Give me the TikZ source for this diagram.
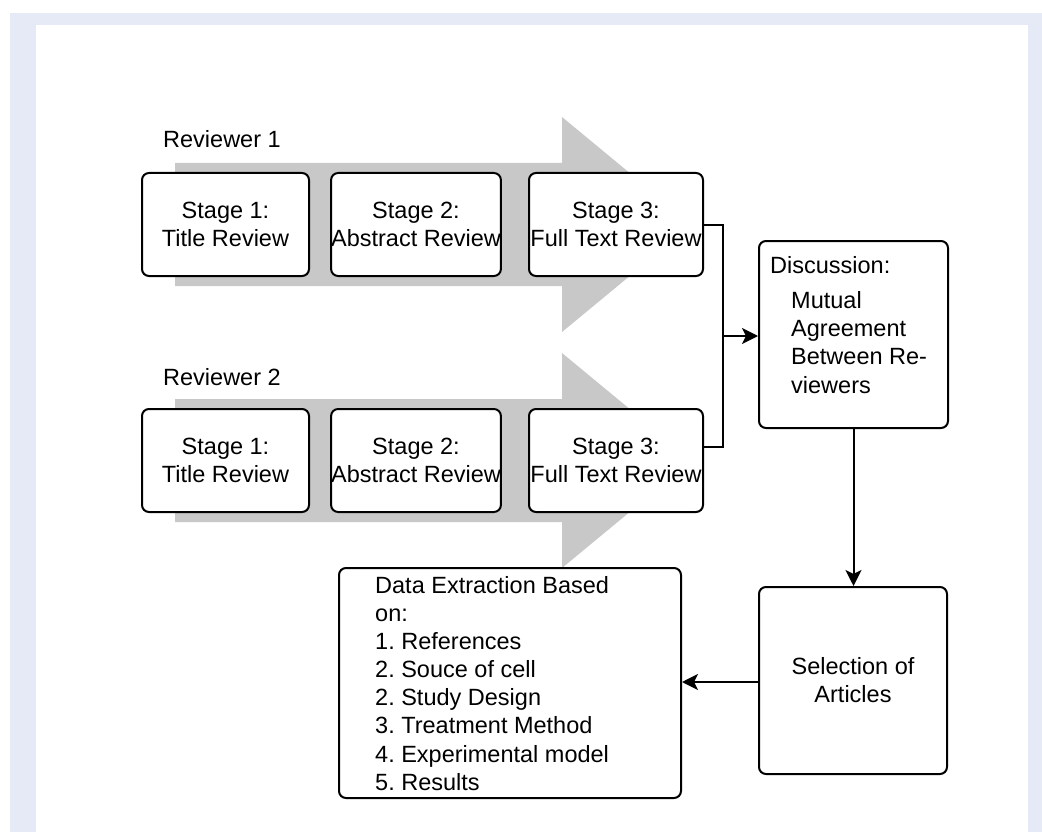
\documentclass[tikz,border=0pt]{standalone}
\usepackage{fontspec}
\setmainfont{Liberation Sans}
\usetikzlibrary{arrows.meta}
\definecolor{frameblue}{RGB}{230,234,246}
\definecolor{bandgray}{RGB}{200,200,200}
\frenchspacing
\tikzset{
  txt/.style={font=\fontsize{23.5}{28}\selectfont, inner sep=0pt, text=black},
  roundbox/.style={draw=black, line width=2pt, rounded corners=7pt, fill=white,
    inner sep=0pt, align=center, txt},
  conn/.style={draw=black, line width=2pt},
  arr/.style={conn, -{Stealth[length=16pt,width=16pt,inset=4pt]}},
  band/.style={fill=bandgray},
}
\begin{document}
\begin{tikzpicture}[x=1pt,y=-1pt]
\useasboundingbox (0,0) rectangle (1042,832);
% page background and frame
\fill[white] (0,0) rectangle (1042,832);
\fill[frameblue] (10,13) rectangle (1042,832);
\fill[white] (36,25) rectangle (1028,832);

% broad grey process arrows behind each reviewer row
\fill[band] (175,163) -- (562,163) -- (562,117) -- (692,224.5) -- (562,332)
  -- (562,286) -- (175,286) -- cycle;
\fill[band] (175,399) -- (562,399) -- (562,353) -- (692,460.5) -- (562,568)
  -- (562,522) -- (175,522) -- cycle;

% reviewer labels
\node[txt, anchor=base west] (rev1) at (163,148) {Reviewer 1};
\node[txt, anchor=base west] (rev2) at (163,385) {Reviewer 2};

% reviewer 1 stages
\node[roundbox, minimum width=167pt, minimum height=103pt] (a1) at (225.5,224.5) {Stage 1:\\Title Review};
\node[roundbox, minimum width=166pt, minimum height=103pt] (a2) at (416,224.5) {Stage 2:\\Abstract Review};
\node[roundbox, minimum width=174pt, minimum height=103pt] (a3) at (616,224.5) {Stage 3:\\Full Text Review};

% reviewer 2 stages
\node[roundbox, minimum width=167pt, minimum height=103pt] (b1) at (225.5,460.5) {Stage 1:\\Title Review};
\node[roundbox, minimum width=166pt, minimum height=103pt] (b2) at (416,460.5) {Stage 2:\\Abstract Review};
\node[roundbox, minimum width=174pt, minimum height=103pt] (b3) at (616,460.5) {Stage 3:\\Full Text Review};

% discussion
\node[roundbox, minimum width=189pt, minimum height=187pt] (disc) at (853.5,334.5) {};
\node[txt, anchor=base west] (disct) at (770,273) {Discussion:};
\node[txt, anchor=north west, align=left, font=\fontsize{23.5}{28.3}\selectfont] (discb) at (791,291)
  {Mutual\\Agreement\\Between Re-\\viewers};

% selection
\node[roundbox, minimum width=188pt, minimum height=187pt] (sel) at (853,680.5) {Selection of\\Articles};

% data extraction
\node[roundbox, minimum width=342pt, minimum height=230pt] (data) at (510,683) {};
\node[txt, anchor=north west, align=left, font=\fontsize{23.5}{28.15}\selectfont] (datat) at (375,576)
  {Data Extraction Based\\on:\\1. References\\2. Souce of cell\\2. Study Design\\3. Treatment Method\\4. Experimental model\\5. Results};

% connectors
\coordinate (join) at (723,336);
\draw[conn] (a3.east) -| (join);
\draw[conn] ([yshift=13.5pt]b3.east) -| (join);
\draw[arr] (join) -- (join -| disc.west);
\draw[arr] (disc.south) -- (disc.south |- sel.north);
\draw[arr] ([yshift=-1.5pt]sel.west) -- ([yshift=-1.5pt]sel.west -| data.east);
\end{tikzpicture}
\end{document}
